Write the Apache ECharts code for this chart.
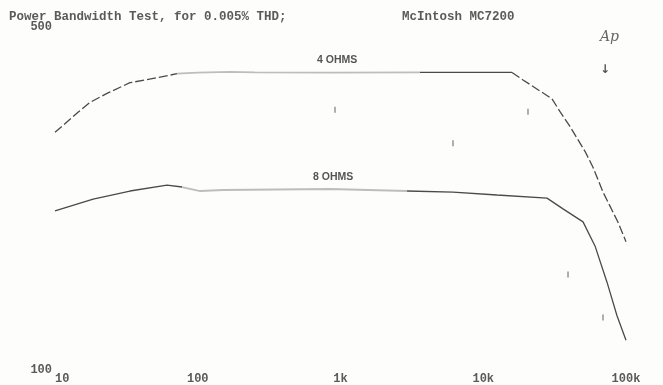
<!DOCTYPE html>
<html><head><meta charset="utf-8">
<script src="https://cdn.jsdelivr.net/npm/echarts@6/dist/echarts.min.js"></script>
<style>html,body{margin:0;padding:0;background:#fdfdfb}#c{width:663px;height:385px}</style>
</head><body><div id="c"></div>
<script>
// Frequency (Hz) and output power (W)
const freq4 = [10, 14.5, 17.6, 23.5, 33.5, 51.8, 71.6, 100, 168, 250, 843, 3600, 15900, 19000, 30300, 34500, 40500, 51600, 58700, 69000, 87900, 100000];
const pow4  = [305, 335, 351, 367, 385, 394, 401.6, 403.5, 405, 404, 403.5, 404, 404, 390, 357, 336, 313.6, 279, 259, 230.5, 200, 182.6];
const freq8 = [10, 18.5, 33.5, 60.9, 77.6, 104, 150, 843, 2924, 6138, 12480, 27960, 36200, 50000, 60650, 73600, 86500, 100000];
const pow8  = [211, 223, 231.6, 238, 236, 231.6, 232.7, 233.8, 231.6, 230.5, 227.3, 224, 213, 200.4, 179, 151, 129, 115];
// stray plotter marks on the scan
const markFreq = [915, 6138, 20580, 39250, 69000];
const markPow  = [339, 289.7, 336, 156.5, 128];
const xTickLabels = {10: '10', 100: '100', 1000: '1k', 10000: '10k', 100000: '100k'};
const yTickLabels = [100, 500];
const titleLeft = 'Power Bandwidth Test, for 0.005% THD;';
const titleRight = 'McIntosh MC7200';
const seriesNames = ['4 OHMS', '8 OHMS'];

const chart = echarts.init(document.getElementById('c'), null, {renderer: 'canvas'});
const dark = '#4a4a4a', light = '#bdbdbd';
function seg(name, fr, pw, from, to, color, dashed) {
  const d = [];
  for (let i = from; i <= to; i++) d.push([fr[i], pw[i]]);
  return {name: name, type: 'line', symbol: 'none', data: d,
          lineStyle: {width: color === light ? 1.8 : 1.3, color: color, type: dashed ? [9, 3] : 'solid'}};
}
const mono = '"Liberation Mono", "DejaVu Sans Mono", monospace';
chart.setOption({
  backgroundColor: '#fdfdfb',
  animation: false,
  grid: {left: 55, right: 37, top: 27, bottom: 13},
  xAxis: {
    type: 'log', logBase: 10, min: 10, max: 100000,
    axisLine: {show: false}, axisTick: {show: false}, splitLine: {show: false},
    axisLabel: {
      margin: 3, color: '#5a5a5a', fontFamily: mono, fontWeight: 'bold', fontSize: 12,
      alignMinLabel: 'left',
      formatter: v => xTickLabels[Math.round(v)] || ''
    }
  },
  yAxis: {
    type: 'log', logBase: 10, min: yTickLabels[0], max: yTickLabels[1],
    axisLine: {show: false}, axisTick: {show: false}, splitLine: {show: false},
    axisLabel: {
      margin: 3, color: '#5a5a5a', fontFamily: mono, fontWeight: 'bold', fontSize: 12,
      showMinLabel: true, showMaxLabel: true,
      formatter: v => String(Math.round(v))
    }
  },
  series: [
    seg(seriesNames[0], freq4, pow4, 0, 6, dark, true),
    seg(seriesNames[0], freq4, pow4, 6, 11, light, false),
    seg(seriesNames[0], freq4, pow4, 11, 12, dark, false),
    seg(seriesNames[0], freq4, pow4, 12, freq4.length - 1, dark, true),
    seg(seriesNames[1], freq8, pow8, 0, 4, dark, false),
    seg(seriesNames[1], freq8, pow8, 4, 8, light, false),
    seg(seriesNames[1], freq8, pow8, 8, freq8.length - 1, dark, false),
    {type: 'scatter', symbol: 'rect', symbolSize: [1.3, 6], silent: true,
     itemStyle: {color: '#666'}, data: markFreq.map((f, i) => [f, markPow[i]])}
  ],
  graphic: [
    {type: 'text', left: 9, top: 10, style: {text: titleLeft, font: 'bold 12.5px ' + mono, fill: '#5a5a5a'}},
    {type: 'text', left: 402, top: 10, style: {text: titleRight, font: 'bold 12.5px ' + mono, fill: '#5a5a5a'}},
    {type: 'text', left: 317, top: 55, style: {text: seriesNames[0], font: 'bold 10.5px "Liberation Sans", Arial, sans-serif', fill: '#555'}},
    {type: 'text', left: 313, top: 172, style: {text: seriesNames[1], font: 'bold 10.5px "Liberation Sans", Arial, sans-serif', fill: '#555'}},
    {type: 'text', left: 600, top: 30, style: {text: 'Ap', font: 'italic 14px "DejaVu Serif", serif', fill: '#666'}},
    {type: 'text', left: 600, top: 64, style: {text: '↓', font: 'bold 12px "DejaVu Sans", sans-serif', fill: '#555'}}
  ]
});
</script></body></html>
